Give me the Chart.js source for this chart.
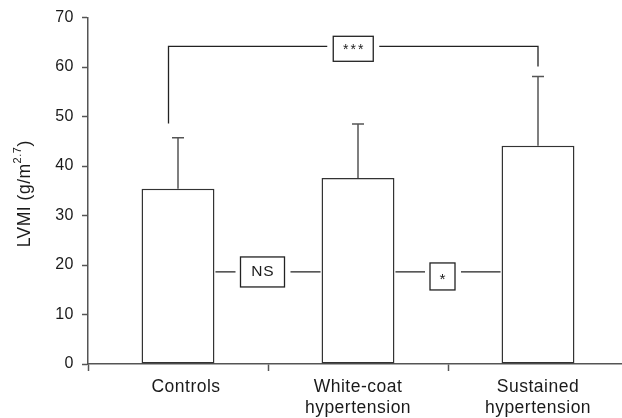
<!DOCTYPE html>
<html>
<head>
<meta charset="utf-8">
<script src="https://cdn.jsdelivr.net/npm/chart.js@4/dist/chart.umd.min.js"></script>
<style>
  html, body { margin: 0; padding: 0; background: #fff; overflow: hidden; }
  #wrap { width: 640px; height: 418px; }
</style>
</head>
<body>
<div id="wrap"><canvas id="grafico" width="640" height="418"></canvas></div>
<script>
// dados
const categorias = [["   Controls"], ["White-coat", "hypertension"], ["Sustained", "hypertension"]];
const medias = [35.4, 37.6, 44.1];
const desvioTopo = [45.7, 48.5, 58.1];

// comparacoes entre grupos
const compDe = [0, 0, 1];
const compPara = [2, 1, 2];
const compNivel = [64.2, 18.6, 18.6];
const compTexto = ["***", "NS", "*"];
// ponta das pernas do colchete de cima (esquerda, direita)
const pernaFim = [48.6, 60.1];

const yTicks = [0, 10, 20, 30, 40, 50, 60, 70];

const COR_TEXTO = "#1a1a1a";
const COR_EIXO = "#555";
const FONTE = "'Liberation Sans', Arial, sans-serif";

// espacamento de letras, parecido com a figura original
const espacamento = {
  id: "espacamento",
  beforeUpdate(chart) { chart.ctx.letterSpacing = "0.5px"; },
  beforeDraw(chart) { chart.ctx.letterSpacing = "0.5px"; }
};

// barras de erro (so para cima)
const barrasErro = {
  id: "barrasErro",
  afterDatasetsDraw(chart) {
    const ctx = chart.ctx;
    const y = chart.scales.y;
    const meta = chart.getDatasetMeta(0);
    ctx.save();
    ctx.strokeStyle = COR_EIXO;
    ctx.lineWidth = 1.5;
    meta.data.forEach((bar, i) => {
      const yTopo = y.getPixelForValue(desvioTopo[i]);
      ctx.beginPath();
      ctx.moveTo(bar.x, bar.y);
      ctx.lineTo(bar.x, yTopo);
      ctx.moveTo(bar.x - 6, yTopo);
      ctx.lineTo(bar.x + 6, yTopo);
      ctx.stroke();
    });
    ctx.restore();
  }
};

function caixa(ctx, cx, cy, w, h, texto, tam, esp, dy) {
  ctx.fillStyle = "#fff";
  ctx.fillRect(cx - w / 2, cy - h / 2, w, h);
  ctx.strokeRect(cx - w / 2, cy - h / 2, w, h);
  ctx.fillStyle = COR_TEXTO;
  ctx.font = tam + "px " + FONTE;
  ctx.letterSpacing = esp + "px";
  ctx.textAlign = "center";
  ctx.textBaseline = "middle";
  ctx.fillText(texto, cx + esp / 2, cy + dy);
}

// colchetes de significancia
const colchetes = {
  id: "colchetes",
  afterDatasetsDraw(chart) {
    const ctx = chart.ctx;
    const y = chart.scales.y;
    const barras = chart.getDatasetMeta(0).data;
    ctx.save();
    ctx.strokeStyle = "#222";
    ctx.lineWidth = 1.3;

    // colchete de cima: Controls x Sustained
    const xa = barras[compDe[0]].x - 9.5;
    const xb = barras[compPara[0]].x;
    const yl = y.getPixelForValue(compNivel[0]);
    const cx = (xa + xb) / 2;
    ctx.beginPath();
    ctx.moveTo(xa, y.getPixelForValue(pernaFim[0]));
    ctx.lineTo(xa, yl);
    ctx.lineTo(cx - 26, yl);
    ctx.moveTo(cx + 26, yl);
    ctx.lineTo(xb, yl);
    ctx.lineTo(xb, y.getPixelForValue(pernaFim[1]));
    ctx.stroke();
    caixa(ctx, cx, yl + 2.5, 40, 25, compTexto[0], 14, 2, 1.5);

    // comparacoes entre barras vizinhas
    const tamanhos = [null, [44, 30, 0, 15.5, 0.8, 0], [25, 27, 4.5, 15.5, 0, 3]];
    for (let k = 1; k < compDe.length; k++) {
      const a = barras[compDe[k]];
      const b = barras[compPara[k]];
      const x1 = a.x + a.width / 2;
      const x2 = b.x - b.width / 2;
      const yy = y.getPixelForValue(compNivel[k]);
      const [w, h, off, tam, esp, dy] = tamanhos[k];
      const m = (x1 + x2) / 2 - 5.5;
      ctx.beginPath();
      ctx.moveTo(x1 + 1, yy);
      ctx.lineTo(m - w / 2 - 5, yy);
      ctx.moveTo(m + w / 2 + 6, yy);
      ctx.lineTo(x2 - 1, yy);
      ctx.stroke();
      caixa(ctx, m, yy + off, w, h, compTexto[k], tam, esp, dy);
    }
    ctx.restore();
  }
};

// titulo do eixo y com expoente
const tituloY = {
  id: "tituloY",
  afterDraw(chart) {
    const ctx = chart.ctx;
    const area = chart.chartArea;
    const partes = [
      { t: "LVMI (g/m", tam: 17.5, sobe: 0 },
      { t: "2.7", tam: 11, sobe: 7 },
      { t: ")", tam: 17.5, sobe: 0 }
    ];
    ctx.save();
    ctx.letterSpacing = "0.5px";
    ctx.fillStyle = COR_TEXTO;
    let total = 0;
    partes.forEach(p => {
      ctx.font = p.tam + "px " + FONTE;
      p.w = ctx.measureText(p.t).width;
      total += p.w;
    });
    ctx.translate(25, (area.top + area.bottom) / 2 + 3);
    ctx.rotate(-Math.PI / 2);
    ctx.textBaseline = "middle";
    ctx.textAlign = "left";
    let x = -total / 2;
    partes.forEach(p => {
      ctx.font = p.tam + "px " + FONTE;
      ctx.fillText(p.t, x, -p.sobe);
      x += p.w;
    });
    ctx.restore();
  }
};

const ctx = document.getElementById("grafico").getContext("2d");

window.graficoLVMI = new Chart(ctx, {
  type: "bar",
  data: {
    labels: categorias,
    datasets: [{
      label: "LVMI",
      data: medias,
      backgroundColor: "#fff",
      borderColor: "#333",
      borderWidth: 1.5,
      borderSkipped: false,
      barPercentage: 0.405,
      categoryPercentage: 1
    }]
  },
  options: {
    responsive: false,
    animation: false,
    events: [],
    layout: { padding: { top: 17, right: 12, left: 0, bottom: 0 } },
    plugins: {
      legend: { display: false },
      tooltip: { enabled: false }
    },
    scales: {
      x: {
        grid: {
          offset: true,
          drawOnChartArea: false,
          drawTicks: true,
          tickLength: 7,
          tickColor: COR_EIXO,
          tickWidth: 1.5
        },
        border: { display: true, color: COR_EIXO, width: 1.5 },
        ticks: {
          color: COR_TEXTO,
          padding: 5,
          maxRotation: 0,
          autoSkip: false,
          font: { family: FONTE, size: 17.5, lineHeight: 1.22 }
        },
        afterFit(scale) { scale.height = 54; }
      },
      y: {
        min: 0,
        max: 70,
        afterBuildTicks(scale) { scale.ticks = yTicks.map(v => ({ value: v })); },
        grid: {
          drawOnChartArea: false,
          drawTicks: true,
          tickLength: 6,
          tickColor: COR_EIXO,
          tickWidth: 1.5
        },
        border: { display: true, color: COR_EIXO, width: 1.5 },
        ticks: {
          color: COR_TEXTO,
          padding: 8,
          font: { family: FONTE, size: 16 }
        },
        afterFit(scale) { scale.width = 88; }
      }
    }
  },
  plugins: [espacamento, barrasErro, colchetes, tituloY]
});
</script>
</body>
</html>
